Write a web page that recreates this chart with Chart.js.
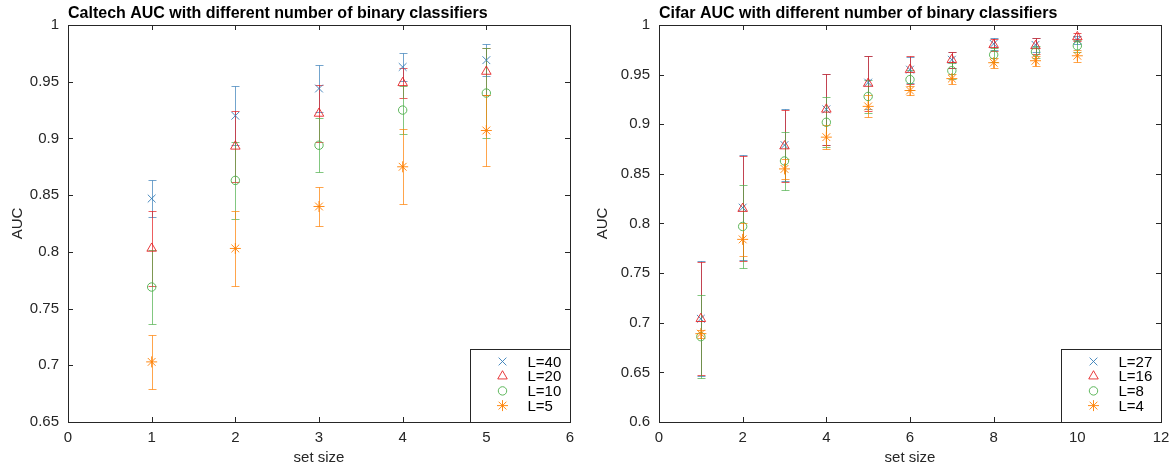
<!DOCTYPE html>
<html>
<head>
<meta charset="utf-8">
<script src="https://cdn.jsdelivr.net/npm/chart.js@4.4.1/dist/chart.umd.min.js"></script>
<style>
  html, body { margin: 0; padding: 0; background: #fff; }
  .wrap { position: absolute; top: 0; width: 585px; height: 465px; }
</style>
</head>
<body>
<div class="wrap" style="left:0"><canvas id="caltechChart"></canvas></div>
<div class="wrap" style="left:585px"><canvas id="cifarChart"></canvas></div>
<script>
// Caltech: set size 1..5
const caltechSizes = [1, 2, 3, 4, 5];
const caltechL40 = [0.847, 0.920, 0.944, 0.963, 0.969];
const caltechL40Err = [0.016, 0.026, 0.021, 0.012, 0.014];
const caltechL20 = [0.803, 0.893, 0.922, 0.949, 0.959];
const caltechL20Err = [0.033, 0.031, 0.025, 0.013, 0.021];
const caltechL10 = [0.769, 0.863, 0.894, 0.925, 0.940];
const caltechL10Err = [0.033, 0.034, 0.024, 0.021, 0.040];
const caltechL5 = [0.703, 0.803, 0.840, 0.875, 0.907];
const caltechL5Err = [0.024, 0.033, 0.017, 0.033, 0.031];

// Cifar: set size 1..10
const cifarSizes = [1, 2, 3, 4, 5, 6, 7, 8, 9, 10];
const cifarL27 = [0.704, 0.816, 0.879, 0.915, 0.942, 0.955, 0.965, 0.981, 0.980, 0.985];
const cifarL27Err = [0.058, 0.053, 0.036, 0.036, 0.027, 0.013, 0.008, 0.006, 0.007, 0.004];
const cifarL16 = [0.704, 0.815, 0.878, 0.915, 0.941, 0.955, 0.965, 0.980, 0.979, 0.988];
const cifarL16Err = [0.057, 0.053, 0.036, 0.036, 0.028, 0.014, 0.008, 0.006, 0.008, 0.004];
const cifarL8 = [0.686, 0.797, 0.863, 0.902, 0.928, 0.945, 0.954, 0.970, 0.973, 0.979];
const cifarL8Err = [0.042, 0.042, 0.029, 0.025, 0.017, 0.010, 0.008, 0.007, 0.006, 0.006];
const cifarL4 = [0.689, 0.784, 0.855, 0.887, 0.918, 0.934, 0.946, 0.962, 0.964, 0.969];
const cifarL4Err = [0.004, 0.017, 0.010, 0.012, 0.011, 0.005, 0.005, 0.005, 0.005, 0.006];

const axisColor = '#262626';
const fontFamily = '"Liberation Sans", Arial, sans-serif';

const markerStyles = [
  { pointStyle: 'crossRot', radius: 5.5, color: 'rgba(55, 126, 184, 0.9)', bar: 'rgba(55, 126, 184, 0.7)' },
  { pointStyle: 'triangle', radius: 5.5, color: 'rgba(228, 26, 28, 0.85)', bar: 'rgba(228, 26, 28, 0.7)' },
  { pointStyle: 'circle', radius: 4.2, color: 'rgba(77, 175, 74, 0.9)', bar: 'rgba(77, 175, 74, 0.7)' },
  { pointStyle: 'star', radius: 5.5, color: 'rgba(255, 127, 0, 0.9)', bar: 'rgba(255, 127, 0, 0.7)' }
];

function makeDataset(label, xs, ys, errs, idx) {
  const m = markerStyles[idx];
  return {
    label: label,
    data: xs.map((x, i) => ({ x: x, y: ys[i] })),
    errors: errs,
    barColor: m.bar,
    order: 3 - idx, // later series on top, like matlab
    pointStyle: m.pointStyle,
    pointRadius: m.radius,
    pointHoverRadius: m.radius,
    pointBorderWidth: 1,
    borderColor: m.color,
    backgroundColor: 'rgba(0,0,0,0)',
    pointBorderColor: m.color,
    pointBackgroundColor: 'rgba(0,0,0,0)',
    showLine: false
  };
}

const errorBars = {
  id: 'errorBars',
  beforeDatasetsDraw(chart) {
    const { ctx, scales: { x, y } } = chart;
    chart.data.datasets.forEach(ds => {
      ctx.save();
      ctx.strokeStyle = ds.barColor;
      ctx.lineWidth = 1;
      ds.data.forEach((p, i) => {
        const px = Math.round(x.getPixelForValue(p.x)) + 0.5;
        const top = Math.round(y.getPixelForValue(p.y + ds.errors[i])) + 0.5;
        const bot = Math.round(y.getPixelForValue(p.y - ds.errors[i])) + 0.5;
        ctx.beginPath();
        ctx.moveTo(px, top); ctx.lineTo(px, bot);
        ctx.moveTo(px - 4, top); ctx.lineTo(px + 4, top);
        ctx.moveTo(px - 4, bot); ctx.lineTo(px + 4, bot);
        ctx.stroke();
      });
      ctx.restore();
    });
  }
};

function drawMarker(ctx, style, x, y, r) {
  if (Chart.helpers && Chart.helpers.drawPoint) {
    Chart.helpers.drawPoint(ctx, { pointStyle: style, radius: r, rotation: 0, borderWidth: 1 }, x, y);
  }
}

// box, inner ticks, title and legend (matlab style)
const frame = {
  id: 'frame',
  afterDraw(chart, args, opts) {
    const { ctx, chartArea: a, scales: { x, y } } = chart;
    ctx.save();
    ctx.strokeStyle = axisColor;
    ctx.lineWidth = 1;
    ctx.strokeRect(Math.round(a.left) + 0.5, Math.round(a.top) + 0.5,
      Math.round(a.right - a.left), Math.round(a.bottom - a.top));
    ctx.beginPath();
    x.ticks.forEach(t => {
      const px = Math.round(x.getPixelForValue(t.value)) + 0.5;
      ctx.moveTo(px, a.bottom); ctx.lineTo(px, a.bottom - 5);
      ctx.moveTo(px, a.top); ctx.lineTo(px, a.top + 5);
    });
    y.ticks.forEach(t => {
      const py = Math.round(y.getPixelForValue(t.value)) + 0.5;
      ctx.moveTo(a.left, py); ctx.lineTo(a.left + 5, py);
      ctx.moveTo(a.right, py); ctx.lineTo(a.right - 5, py);
    });
    ctx.stroke();

    // title, left aligned on the axes
    ctx.fillStyle = '#000';
    ctx.font = 'bold 16px ' + fontFamily;
    ctx.textAlign = 'left';
    ctx.textBaseline = 'alphabetic';
    ctx.fillText(opts.text, a.left, a.top - 7);

    // legend in the lower right corner
    const w = 100, h = 73;
    const bx = Math.round(a.right - w) + 0.5, by = Math.round(a.bottom - h) + 0.5;
    ctx.fillStyle = '#fff';
    ctx.fillRect(bx, by, w, h);
    ctx.strokeStyle = axisColor;
    ctx.strokeRect(bx, by, w, h);
    ctx.font = '15px ' + fontFamily;
    ctx.textBaseline = 'middle';
    chart.data.datasets.forEach((ds, i) => {
      const ry = by + 12 + i * 14.7;
      ctx.lineWidth = 1;
      ctx.strokeStyle = ds.borderColor;
      ctx.fillStyle = 'rgba(0,0,0,0)';
      drawMarker(ctx, ds.pointStyle, bx + 32, ry, ds.pointRadius);
      ctx.fillStyle = '#000';
      ctx.fillText(ds.label, bx + 57, ry + 1);
    });
    ctx.restore();
  }
};

const tickLabel = v => String(+Number(v).toFixed(2));

function makeChart(id, title, datasets, xMax, xStep, yMin, yLeft, padRight) {
  return new Chart(document.getElementById(id).getContext('2d'), {
    type: 'scatter',
    data: { datasets: datasets },
    plugins: [errorBars, frame],
    options: {
      responsive: true,
      maintainAspectRatio: false,
      animation: false,
      layout: { padding: { top: 25, right: padRight, left: 0, bottom: 0 } },
      plugins: {
        legend: { display: false },
        title: { display: false },
        tooltip: { enabled: false },
        frame: { text: title }
      },
      scales: {
        x: {
          min: 0,
          max: xMax,
          afterFit: s => { s.height = 43; s.paddingLeft = 0; s.paddingRight = 0; },
          grid: { display: false, drawTicks: false },
          border: { display: false },
          ticks: { stepSize: xStep, padding: 7, color: axisColor, callback: tickLabel, font: { family: fontFamily, size: 15 } },
          title: { display: true, text: 'set size', color: axisColor, padding: { top: 0, bottom: -2 }, font: { family: fontFamily, size: 15 } }
        },
        y: {
          min: yMin,
          max: 1,
          afterFit: s => { s.width = yLeft; s.paddingTop = 0; s.paddingBottom = 0; },
          grid: { display: false, drawTicks: false },
          border: { display: false },
          ticks: { stepSize: 0.05, padding: 9, color: axisColor, callback: tickLabel, font: { family: fontFamily, size: 15 } },
          title: { display: true, text: 'AUC', color: axisColor, padding: { top: 9, bottom: 0 }, font: { family: fontFamily, size: 15 } }
        }
      }
    }
  });
}

makeChart('caltechChart', 'Caltech AUC with different number of binary classifiers', [
  makeDataset('L=40', caltechSizes, caltechL40, caltechL40Err, 0),
  makeDataset('L=20', caltechSizes, caltechL20, caltechL20Err, 1),
  makeDataset('L=10', caltechSizes, caltechL10, caltechL10Err, 2),
  makeDataset('L=5', caltechSizes, caltechL5, caltechL5Err, 3)
], 6, 1, 0.65, 68, 15);

makeChart('cifarChart', 'Cifar AUC with different number of binary classifiers', [
  makeDataset('L=27', cifarSizes, cifarL27, cifarL27Err, 0),
  makeDataset('L=16', cifarSizes, cifarL16, cifarL16Err, 1),
  makeDataset('L=8', cifarSizes, cifarL8, cifarL8Err, 2),
  makeDataset('L=4', cifarSizes, cifarL4, cifarL4Err, 3)
], 12, 2, 0.6, 74, 9);
</script>
</body>
</html>
